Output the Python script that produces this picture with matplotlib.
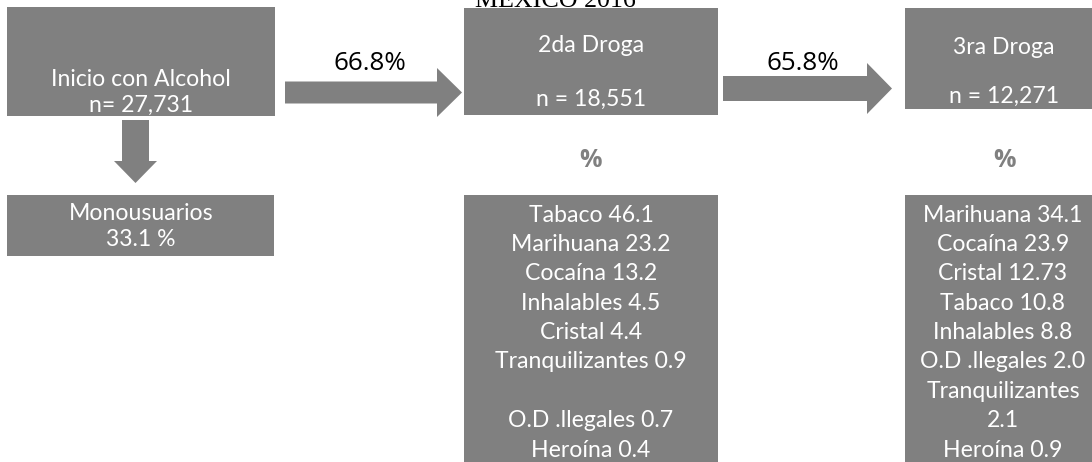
import matplotlib
matplotlib.use("Agg")
import matplotlib.pyplot as plt
from matplotlib.patches import Rectangle, Polygon

# ---- data ----
title = "MEXICO 2016"
start_label = "Inicio con Alcohol"
n_start = 27731
mono_label = "Monousuarios"
mono_pct = 33.1
transition_pcts = [66.8, 65.8]
stage_labels = ["2da Droga", "3ra Droga"]
stage_n = [18551, 12271]
second_drugs = ["Tabaco", "Marihuana", "Cocaína", "Inhalables", "Cristal",
                "Tranquilizantes", "O.D .llegales", "Heroína"]
second_vals = [46.1, 23.2, 13.2, 4.5, 4.4, 0.9, 0.7, 0.4]
third_drugs = ["Marihuana", "Cocaína", "Cristal", "Tabaco", "Inhalables",
               "O.D .llegales", "Tranquilizantes", "Heroína"]
third_vals = [34.1, 23.9, 12.73, 10.8, 8.8, 2.0, 2.1, 0.9]

# ---- style ----
GREY = "#808080"
FONT = "Lato"
PX = 0.72  # px -> pt at 100 dpi
fs = 23 * PX

fig = plt.figure(figsize=(10.92, 4.62), dpi=100)
ax = fig.add_axes([0, 0, 1, 1])
ax.set_xlim(0, 1092)
ax.set_ylim(462, 0)
ax.axis("off")


def box(x0, y0, x1, y1):
    ax.add_patch(Rectangle((x0, y0), x1 - x0, y1 - y0, facecolor=GREY,
                           edgecolor="none", clip_on=True))


def wtext(x, y, s, size=fs, color="white", family=FONT, weight="normal"):
    ax.text(x, y, s, ha="center", va="baseline", fontsize=size, color=color,
            family=family, fontweight=weight)


def arrow_right(x0, xh, x1, yc, sh, hh):
    pts = [(x0, yc - sh), (xh, yc - sh), (xh, yc - hh), (x1, yc),
           (xh, yc + hh), (xh, yc + sh), (x0, yc + sh)]
    ax.add_patch(Polygon(pts, closed=True, facecolor=GREY, edgecolor="none"))


def arrow_down(xc, y0, yh, y1, sh, hh):
    pts = [(xc - sh, y0), (xc + sh, y0), (xc + sh, yh), (xc + hh, yh),
           (xc, y1), (xc - hh, yh), (xc - sh, yh)]
    ax.add_patch(Polygon(pts, closed=True, facecolor=GREY, edgecolor="none"))


# title (partly cut at top, as in the original)
ax.text(555, 7, title, ha="center", va="baseline", fontsize=26 * PX,
        family="Liberation Serif", color="black")

# start box
box(7, 7, 275, 116)
wtext(141, 86.5, start_label)
wtext(141, 111.5, f"n= {n_start:,}")

# down arrow + monousuarios
arrow_down(135.5, 120, 161, 183, 13.5, 21.5)
box(7, 195, 274, 256)
wtext(141, 220.5, mono_label)
wtext(141, 245.5, f"{mono_pct} %")

# stage boxes
stage_boxes = [(464, 8, 718, 115), (905, 8, 1103, 109)]
stage_title_y = [51.5, 53.5]
stage_n_y = [105.5, 102.5]
for (x0, y0, x1, y1), lab, n, ty, ny in zip(stage_boxes, stage_labels, stage_n,
                                          stage_title_y, stage_n_y):
    box(x0, y0, x1, y1)
    cx = (x0 + x1) / 2
    wtext(cx, ty, lab)
    wtext(cx, ny, f"n = {n:,}")
    wtext(cx, 167, "%", size=25 * PX, color=GREY, family="Open Sans",
          weight="bold")

# transition arrows
arrow_right(285, 437, 462, 92.5, 11, 24.5)
arrow_right(723, 867, 892, 88.5, 12.5, 25.5)
ax.text(370, 70, f"{transition_pcts[0]}%", ha="center", va="baseline",
        fontsize=26 * PX, family="Open Sans", color="black")
ax.text(803, 70, f"{transition_pcts[1]}%", ha="center", va="baseline",
        fontsize=26 * PX, family="Open Sans", color="black")

# drug lists
step = 29.4
first_base = 221.5

box(464, 195, 718, 470)
lines2 = [f"{d} {v}" for d, v in zip(second_drugs, second_vals)]
lines2 = lines2[:6] + [""] + lines2[6:]
for i, s in enumerate(lines2):
    if s:
        wtext(591, first_base + i * step, s)

box(905, 195, 1103, 470)
lines3 = []
for d, v in zip(third_drugs, third_vals):
    if d == "Tranquilizantes":
        lines3 += [d, f"{v}"]
    else:
        lines3.append(f"{d} {v}")
for i, s in enumerate(lines3):
    wtext(1003, first_base + i * step, s)

fig.savefig("out.png", dpi=100)
